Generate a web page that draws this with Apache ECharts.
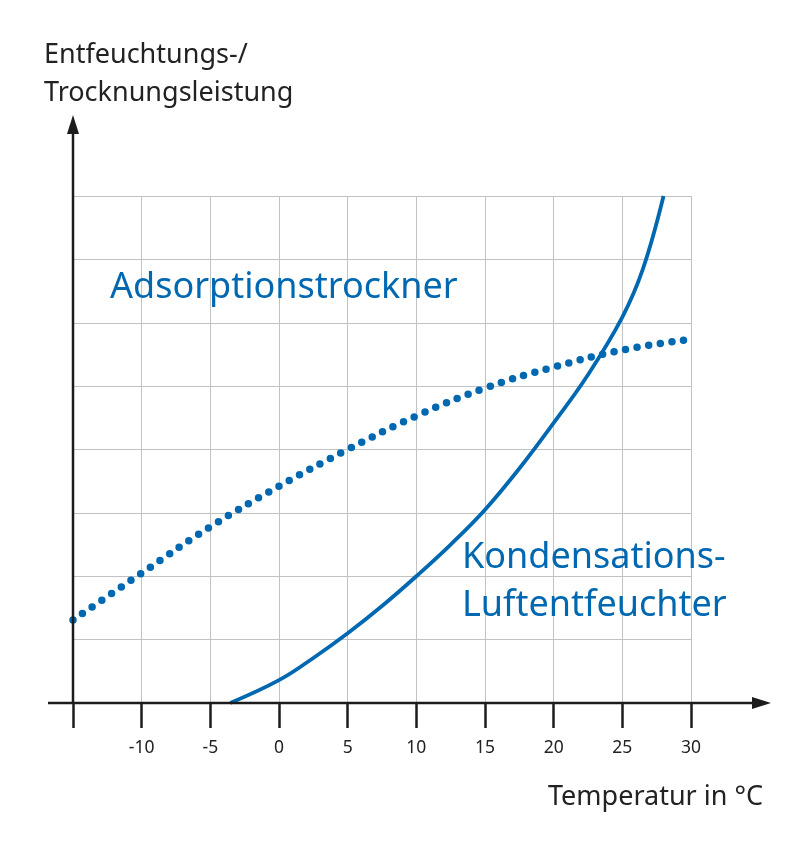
<!DOCTYPE html>
<html><head><meta charset="utf-8">
<script src="https://cdn.jsdelivr.net/npm/echarts@6/dist/echarts.min.js"></script>
<style>html,body{margin:0;padding:0;background:#fff}#c{width:809px;height:842px}</style>
</head><body><div id="c"></div>
<script>
const xTicks = [-15,-10,-5,0,5,10,15,20,25,30];
const dryX = [-15,-10,-5,0,5,10,15,20,25,30];
const dryY = [1.31,2.05,2.78,3.42,4.0,4.53,4.97,5.3,5.57,5.74];
const condX = [-3.55,0,2.5,5,7.5,10,12.5,15,17.5,20,22.5,25,26.5,28];
const condY = [0,0.36,0.71,1.1,1.53,2.0,2.5,3.05,3.7,4.42,5.18,6.09,6.85,8.0];
const yAxisTitle = 'Entfeuchtungs-/\nTrocknungsleistung';
const xAxisTitle = 'Temperatur in °C';
const dryName = 'Adsorptionstrockner';
const condName = 'Kondensations-\nLuftentfeuchter';

const BLUE = '#0068b1';
const INK = '#1c1c1c';
const FONT = 'Noto Sans';
const chart = echarts.init(document.getElementById('c'));
chart.setOption({
  animation: false,
  grid: {left: 73, right: 118, top: 196, bottom: 139, containLabel: false},
  xAxis: {
    type: 'value', min: -15, max: 30, interval: 5,
    axisLine: {show: false},
    axisTick: {show: true, length: 25, inside: false, lineStyle: {color: INK, width: 2.5}},
    axisLabel: {margin: 36, color: '#222', fontSize: 17.5, fontFamily: FONT,
      formatter: v => (v === xTicks[0] ? '' : String(v))},
    splitLine: {show: true, lineStyle: {color: '#c2c2c2', width: 1}}
  },
  yAxis: {
    type: 'value', min: 0, max: 8, interval: 1,
    axisLine: {show: false}, axisTick: {show: false}, axisLabel: {show: false},
    splitLine: {show: true, lineStyle: {color: '#c2c2c2', width: 1}}
  },
  series: [
    {type: 'line', data: dryX.map((x,i)=>[x, dryY[i]]), smooth: 0.4, showSymbol: false,
     lineStyle: {color: BLUE, width: 7.5, type: [0, 11.7], cap: 'round'}, z: 3},
    {type: 'line', data: condX.map((x,i)=>[x, condY[i]]), smooth: 0.4, showSymbol: false,
     lineStyle: {color: BLUE, width: 3.8, cap: 'butt'}, z: 3}
  ],
  graphic: [
    {type: 'line', shape: {x1: 48, y1: 703, x2: 756, y2: 703}, style: {stroke: INK, lineWidth: 2.5}, z: 10},
    {type: 'polygon', shape: {points: [[771,703],[752,697],[752,709]]}, style: {fill: INK}, z: 10},
    {type: 'line', shape: {x1: 73, y1: 704, x2: 73, y2: 130}, style: {stroke: INK, lineWidth: 2.5}, z: 10},
    {type: 'polygon', shape: {points: [[73,115],[67,134],[79,134]]}, style: {fill: INK}, z: 10},
    {type: 'text', left: 44, top: 36, style: {text: yAxisTitle, fill: '#222', font: '27px "' + FONT + '"', lineHeight: 38}, z: 10},
    {type: 'text', left: 548, top: 784, style: {text: xAxisTitle, fill: '#222', font: '27px "' + FONT + '"'}, z: 10},
    {type: 'text', left: 110, top: 270, style: {text: dryName, fill: BLUE, font: '36px "' + FONT + '"'}, z: 10},
    {type: 'text', left: 462, top: 534, style: {text: condName, fill: BLUE, font: '36px "' + FONT + '"', lineHeight: 48}, z: 10}
  ]
});
</script></body></html>
